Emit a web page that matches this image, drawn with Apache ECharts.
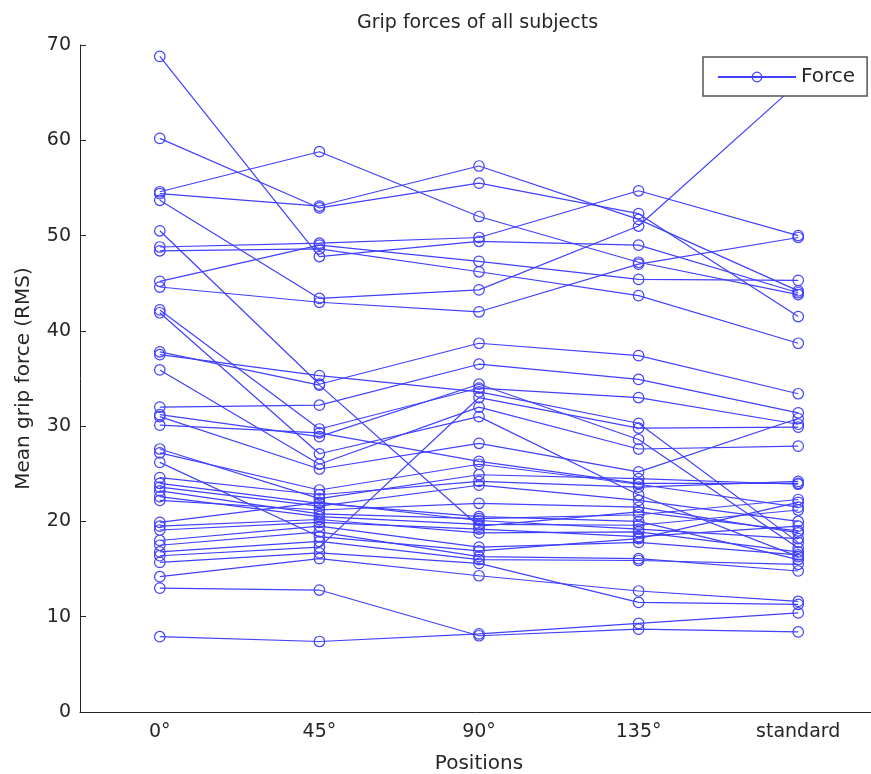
<!DOCTYPE html>
<html>
<head>
<meta charset="utf-8">
<script src="https://cdn.jsdelivr.net/npm/echarts@6/dist/echarts.min.js"></script>
<style>html,body{margin:0;padding:0;background:#fff;}#c{width:871px;height:774px;}</style>
</head>
<body>
<div id="c"></div>
<script>
// Category labels
const positions = ['0°', '45°', '90°', '135°', 'standard'];
const yTicks = [0, 10, 20, 30, 40, 50, 60, 70];
// Mean grip force per subject at each position (same index = same subject)
const pos0   = [68.8, 60.2, 54.6, 54.4, 53.7, 48.8, 48.4, 45.2, 44.6, 50.5, 13.0, 7.9, 14.2, 15.7,
                42.2, 41.9, 37.8, 37.5, 35.9, 32.0, 31.2, 31.0, 30.1, 27.6, 27.2, 26.2, 24.6, 24.0, 23.6, 23.2, 22.6, 22.2, 19.9, 19.5, 19.1, 18.0, 17.5, 16.8, 16.4];
const pos45  = [47.8, 52.9, 58.8, 53.1, 43.4, 49.2, 48.6, 49.0, 43.0, 34.4, 12.8, 7.4, 16.1, 16.7,
                29.7, 27.1, 34.3, 35.3, 26.0, 32.2, 28.9, 25.5, 29.3, 22.4, 23.3, 18.4, 22.8, 21.9, 21.6, 20.8, 20.5, 21.2, 22.0, 20.2, 19.9, 19.5, 18.9, 17.9, 17.3];
const pos90  = [49.4, 55.5, 52.0, 57.3, 44.3, 49.8, 46.2, 47.3, 42.0, 38.7, 8.0, 8.2, 14.3, 15.6,
                34.0, 31.0, 19.5, 33.6, 32.0, 36.5, 34.4, 28.2, 26.3, 24.9, 26.0, 16.9, 24.2, 20.5, 23.8, 20.3, 19.7, 21.9, 20.1, 18.8, 19.2, 17.3, 16.3, 16.0, 33.0];
const pos135 = [49.0, 52.3, 47.2, 51.7, 51.0, 54.7, 43.7, 45.4, 47.0, 37.4, 8.7, 9.3, 12.7, 11.5,
                33.0, 22.8, 21.0, 30.3, 27.6, 34.9, 28.6, 25.2, 24.0, 24.5, 23.9, 18.2, 23.6, 20.0, 22.2, 20.7, 19.6, 21.5, 19.2, 18.9, 18.4, 17.8, 16.1, 15.9, 29.8];
const posStd = [44.0, 41.5, 43.8, 44.2, 66.0, 50.0, 38.7, 45.3, 49.8, 33.4, 8.4, 10.4, 11.6, 11.3,
                30.2, 16.3, 19.0, 17.8, 27.9, 31.4, 17.2, 30.8, 24.0, 23.9, 21.5, 22.0, 24.2, 16.0, 20.0, 22.3, 21.2, 18.8, 18.2, 16.8, 19.5, 16.5, 14.8, 15.5, 29.9];

const BLUE = '#4040ff';
const FONT = 'DejaVu Sans';
const TXT = '#262626';

const series = pos0.map((v, i) => ({
  name: 'Force',
  type: 'line',
  data: [pos0[i], pos45[i], pos90[i], pos135[i], posStd[i]],
  symbol: 'circle',
  symbolSize: 10.5,
  showAllSymbol: true,
  lineStyle: { color: BLUE, width: 1.2 },
  itemStyle: { color: 'rgba(0,0,0,0)', borderColor: BLUE, borderWidth: 1.2 },
  emphasis: { disabled: true },
  animation: false,
  z: 2
}));

const chart = echarts.init(document.getElementById('c'), null, { renderer: 'canvas' });
chart.setOption({
  backgroundColor: '#fff',
  animation: false,
  title: {
    text: 'Grip forces of all subjects',
    left: 352, top: 9,
    textStyle: { fontFamily: FONT, fontSize: 19, fontWeight: 'normal', color: TXT }
  },
  legend: {
    data: ['Force'],
    left: 703, top: 57,
    padding: [10, 12, 9, 14],
    itemWidth: 78, itemHeight: 12,
    backgroundColor: '#fff',
    borderColor: '#555', borderWidth: 1.5,
    textStyle: { fontFamily: FONT, fontSize: 20, color: TXT },
    itemStyle: { color: 'rgba(0,0,0,0)', borderColor: BLUE, borderWidth: 1.2 },
    z: 10
  },
  grid: { left: 80, right: -7, top: 45, bottom: 62, containLabel: false, outerBoundsMode: 'none' },
  xAxis: {
    type: 'category',
    data: positions,
    boundaryGap: true,
    name: 'Positions',
    nameLocation: 'middle',
    nameGap: 42,
    nameTextStyle: { fontFamily: FONT, fontSize: 20, color: TXT },
    axisLine: { lineStyle: { color: TXT, width: 1 } },
    axisTick: { inside: true, alignWithLabel: true, length: 6, lineStyle: { color: TXT } },
    axisLabel: { fontFamily: FONT, fontSize: 19, color: TXT, margin: 11 },
    splitLine: { show: false }
  },
  yAxis: {
    type: 'value',
    min: yTicks[0], max: yTicks[yTicks.length - 1], interval: 10,
    name: 'Mean grip force (RMS)',
    nameLocation: 'middle',
    nameGap: 46,
    nameTextStyle: { fontFamily: FONT, fontSize: 20, color: TXT },
    axisLine: { show: true, lineStyle: { color: TXT, width: 1 } },
    axisTick: { show: true, inside: true, length: 6, lineStyle: { color: TXT } },
    axisLabel: { fontFamily: FONT, fontSize: 19, color: TXT, margin: 9 },
    splitLine: { show: false }
  },
  series: series
});
</script>
</body>
</html>
